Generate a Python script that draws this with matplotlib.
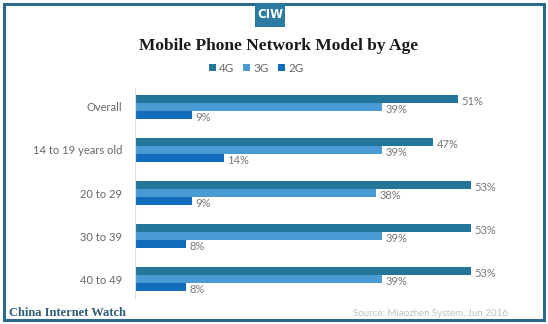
import numpy as np
import matplotlib.pyplot as plt
from matplotlib.patches import Rectangle

groups = ['Overall', '14 to 19 years old', '20 to 29', '30 to 39', '40 to 49']
share_4g = [51, 47, 53, 53, 53]
share_3g = [39, 39, 38, 39, 39]
share_2g = [9, 14, 9, 8, 8]
series = ['4G', '3G', '2G']
colors = ['#23759a', '#4a9bd3', '#126cbc']

W, H = 548, 324
fig = plt.figure(figsize=(W / 100, H / 100), dpi=100)
fig.patch.set_facecolor('white')

# axes placed in pixel terms: left 135, right 515, top 88, bottom 298
ax = fig.add_axes([135 / W, 1 - 298 / H, 380 / W, 210 / H])

y = np.arange(len(groups))
h = 0.186
for k, (vals, col) in enumerate(zip([share_4g, share_3g, share_2g], colors)):
    pos = y + (k - 1) * h
    ax.barh(pos, vals, height=h, color=col, label=series[k])
    for p, v in zip(pos, vals):
        ax.text(v + 0.6, p + 0.06, f'{v}%', va='center', ha='left',
                fontsize=8, color='#777777', family='Lato')

ax.set_xlim(0, 60)
ax.set_ylim(len(groups) - 0.56, -0.44)
ax.set_yticks(y)
ax.set_yticklabels(groups, fontsize=8, color='#666666', family='Lato')
ax.tick_params(axis='y', length=0, pad=9)
ax.set_xticks([])
for s in ['top', 'right', 'bottom']:
    ax.spines[s].set_visible(False)
ax.spines['left'].set_color('#dddddd')
ax.spines['left'].set_linewidth(0.8)

# legend row under the title
handles, labels = ax.get_legend_handles_labels()
fig.legend(handles, labels, loc='center', bbox_to_anchor=(256 / W, 1 - 68 / H),
           ncol=3, frameon=False, fontsize=8, handlelength=0.6, handleheight=0.6,
           handletextpad=0.25, columnspacing=0.8, labelcolor='#666666',
           prop={'family': 'Lato', 'size': 8.5})

fig.text(279 / W, 1 - 46 / H, 'Mobile Phone Network Model by Age', ha='center', va='center',
         fontsize=12.5, fontweight='bold', family='Liberation Serif', color='#1a1a1a')

# outer frame and logo block
fig.patches.append(Rectangle((4 / W, 4 / H), 540 / W, 316 / H, transform=fig.transFigure,
                             fill=False, edgecolor='#2b6a8a', linewidth=2.2))
fig.patches.append(Rectangle((255 / W, 1 - 27 / H), 30 / W, 24 / H, transform=fig.transFigure,
                             facecolor='#2b7aa1', edgecolor='none'))
fig.text(270 / W, 1 - 15 / H, 'CIW', ha='center', va='center', fontsize=8.5,
         fontweight='bold', color='white', family='DejaVu Sans Condensed')

fig.text(9 / W, 1 - 313 / H, 'China Internet Watch', ha='left', va='center',
         fontsize=9, fontweight='bold', family='Liberation Serif', color='#2f5d78')
fig.text(508 / W, 1 - 313 / H, 'Source: Miaozhen System, Jun 2016', ha='right', va='center',
         fontsize=7, color='#c0c0c0', family='Lato')

fig.savefig('out.png', dpi=100)
